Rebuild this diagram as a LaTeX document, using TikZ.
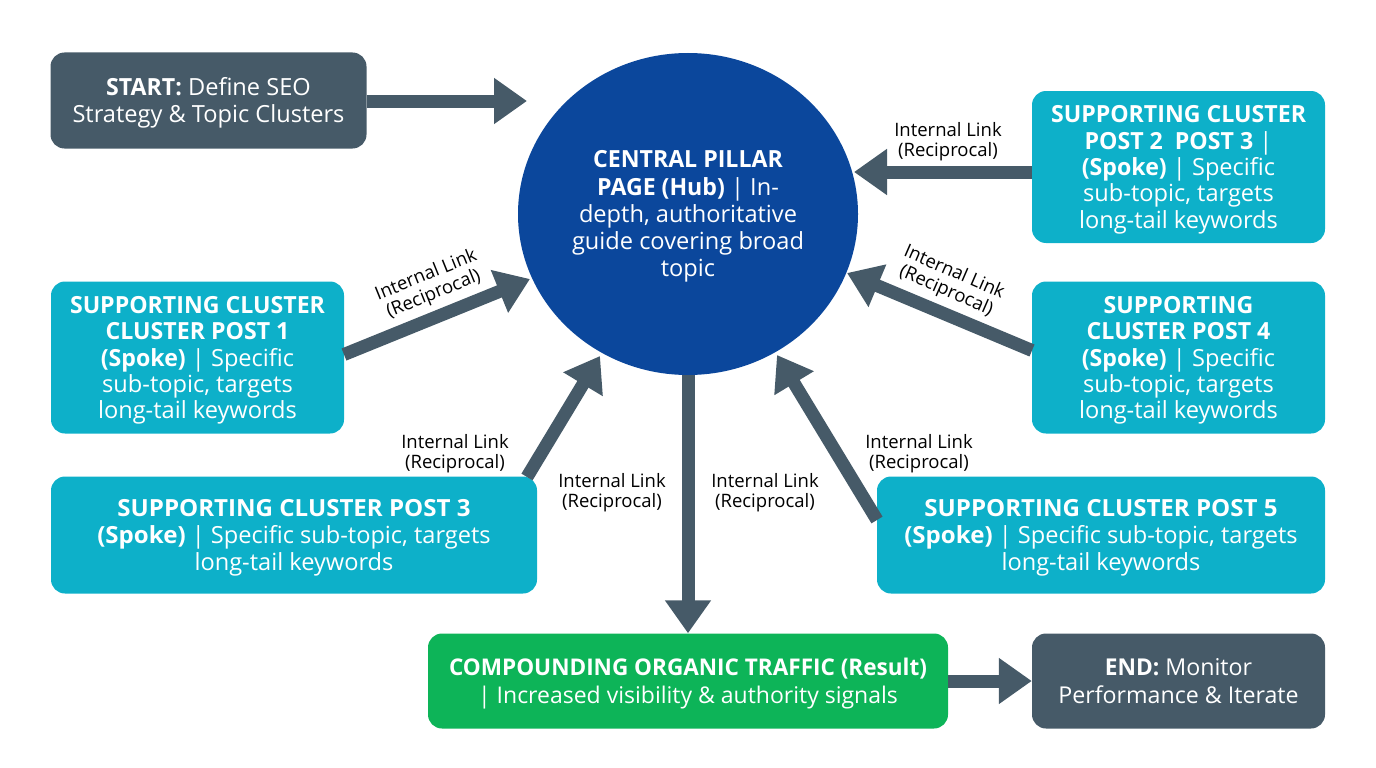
\documentclass[tikz,border=0pt]{standalone}
\usepackage{fontspec}
\setmainfont{Open Sans}[BoldFeatures={FakeStretch=0.98}]
\newfontfamily\widefam{Open Sans}[BoldFeatures={FakeStretch=1.02}]
\usetikzlibrary{arrows.meta,shapes.geometric}
\definecolor{slatebox}{HTML}{465A68}
\definecolor{tealbox}{HTML}{0DB0C9}
\definecolor{hubblue}{HTML}{0B479C}
\definecolor{greenbox}{HTML}{0DB458}
\newcommand{\topfix}{\rule{0pt}{24pt}}
\newcommand{\botfix}{\rule[-7pt]{0pt}{7pt}}
\tikzset{
 box/.style={rectangle,rounded corners=14pt,inner sep=0pt,align=center,text=white,font=\fontsize{23.6}{26.8}\selectfont,minimum width=#1},
 tallbox/.style={box=293pt,fill=tealbox,minimum height=152pt,font=\fontsize{23.6}{26.3}\selectfont},
 widebox/.style={box=#1,fill=tealbox,minimum height=117pt,font=\widefam\fontsize{23.6}{26.8}\selectfont},
 slate/.style={fill=slatebox},
 arr/.style={draw=slatebox,line width=13pt,-{Triangle[length=33pt,width=44pt]}},
 lbl/.style={font=\fontsize{18.5}{20}\selectfont,text=black,align=center,inner sep=0pt},
}
\begin{document}
\begin{tikzpicture}[x=1pt,y=-1pt]
\useasboundingbox (0,0) rectangle (1376,768);
\node[ellipse,fill=hubblue,minimum width=340pt,minimum height=322pt,inner sep=0pt] (hub) at (688,214) {};
\node[align=center,text=white,font=\fontsize{23.6}{27.2}\selectfont,inner sep=0pt] (hubt) at (688,216.5) {\textbf{CENTRAL PILLAR}\\\textbf{PAGE (Hub)} | In-\\depth, authoritative\\guide covering broad\\topic};
\node[box=316pt,slate,minimum height=96pt] (start) at (208.5,100.5) {\topfix\textbf{START:} Define SEO\\Strategy \& Topic Clusters\botfix};
\node[tallbox] (s2) at (1178.5,167) {\topfix\textbf{SUPPORTING CLUSTER}\\\textbf{POST 2\ \ POST 3} |\\\textbf{(Spoke)} | Specific\\sub-topic, targets\\long-tail keywords\botfix};
\node[tallbox] (s1) at (197.5,357.5) {\topfix\textbf{SUPPORTING CLUSTER}\\\textbf{CLUSTER POST 1}\\\textbf{(Spoke)} | Specific\\sub-topic, targets\\long-tail keywords\botfix};
\node[tallbox] (s4) at (1178.5,357.5) {\topfix\textbf{SUPPORTING}\\\textbf{CLUSTER POST 4}\\\textbf{(Spoke)} | Specific\\sub-topic, targets\\long-tail keywords\botfix};
\node[widebox=486pt] (s3) at (294,535) {\topfix\textbf{SUPPORTING CLUSTER POST 3}\\\textbf{(Spoke)} | Specific sub-topic, targets\\long-tail keywords\botfix};
\node[widebox=448pt] (s5) at (1101,535) {\topfix\textbf{SUPPORTING CLUSTER POST 5}\\\textbf{(Spoke)} | Specific sub-topic, targets\\long-tail keywords\botfix};
\node[box=520pt,fill=greenbox,minimum height=95pt,font=\fontsize{23}{27.5}\selectfont] (res) at (688,681) {\topfix\textbf{COMPOUNDING ORGANIC TRAFFIC (Result)}\\| Increased visibility \& authority signals\botfix};
\node[box=293pt,slate,minimum height=95pt,font=\fontsize{23.2}{27.2}\selectfont] (end) at (1178.5,681) {\topfix\textbf{END:} Monitor\\Performance \& Iterate\botfix};
\coordinate (a1) at (527,101);
\coordinate (a2) at (854,172);
\coordinate (a3) at (530,279);
\coordinate (a4) at (847,273);
\coordinate (a5) at (600,356);
\coordinate (a6) at (777,355);
\coordinate (b2) at (1032,172);
\coordinate (b3) at (344,354.5);
\coordinate (b4) at (1032,350.5);
\coordinate (b5) at (527,477);
\coordinate (b6) at (877,520);
\draw[arr] (start.east |- a1) -- (a1);
\draw[arr] (b2) -- (a2);
\draw[arr] (b3) -- (a3);
\draw[arr] (b4) -- (a4);
\draw[arr] (b5) -- (a5);
\draw[arr] (b6) -- (a6);
\draw[arr] (hub.south) -- (res.north);
\draw[arr] (res.east) -- (end.west);
\node[lbl] (l1) at (948,142) {Internal Link\\(Reciprocal)};
\node[lbl,rotate=-23.5] (l2) at (950,282) {Internal Link\\(Reciprocal)};
\node[lbl,rotate=22] (l3) at (430,285) {Internal Link\\(Reciprocal)};
\node[lbl] (l4) at (455,454) {Internal Link\\(Reciprocal)};
\node[lbl] (l5) at (919,454) {Internal Link\\(Reciprocal)};
\node[lbl] (l6) at (612,493) {Internal Link\\(Reciprocal)};
\node[lbl] (l7) at (765,493) {Internal Link\\(Reciprocal)};
\end{tikzpicture}
\end{document}
